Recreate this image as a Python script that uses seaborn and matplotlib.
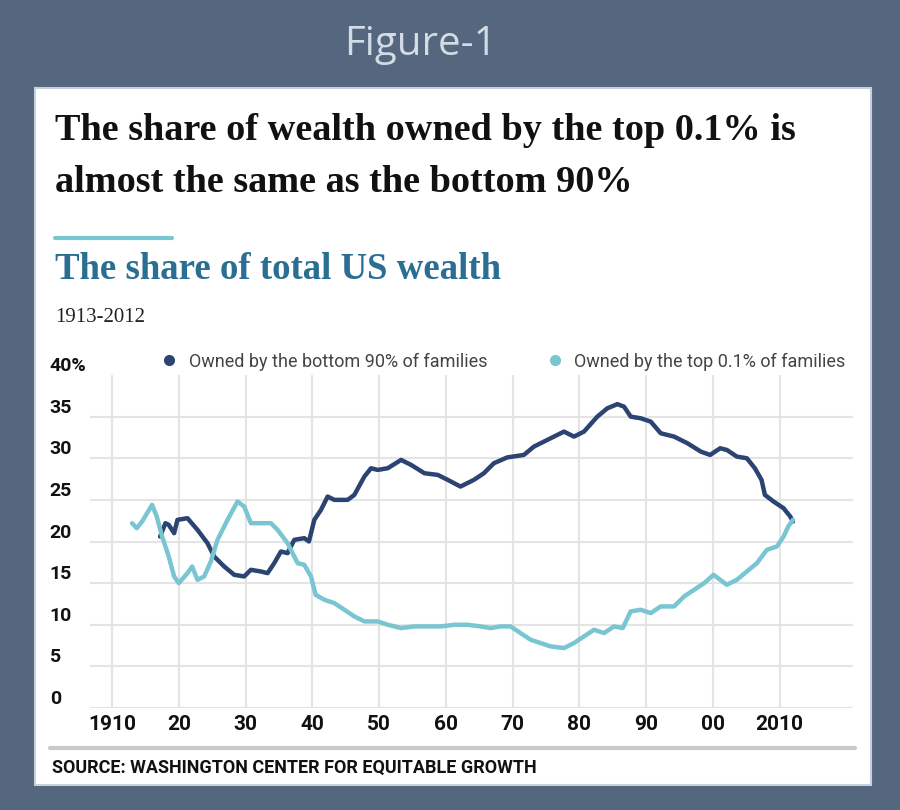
import matplotlib
matplotlib.use("Agg")
import matplotlib.pyplot as plt
import seaborn as sns
import pandas as pd
from matplotlib.patches import Rectangle
from matplotlib.lines import Line2D

# Data (share of total US wealth, %)
bottom90_years = [1917.2, 1918.0, 1918.5, 1919.3, 1919.8, 1921.3, 1922.8, 1924.3, 1925.3, 1926.8,
                  1928.3, 1929.8, 1930.8, 1932.3, 1933.3, 1934.3, 1935.3, 1936.3, 1937.3, 1938.8,
                  1939.5, 1940.3, 1941.3, 1942.3, 1943.3, 1945.3, 1946.3, 1947.8, 1948.8, 1949.8,
                  1951.3, 1953.3, 1954.8, 1956.8, 1958.8, 1960.3, 1962.2, 1964.2, 1965.7, 1967.2,
                  1969.2, 1971.7, 1973.2, 1975.2, 1977.7, 1979.2, 1980.7, 1982.7, 1984.2, 1985.7,
                  1986.7, 1987.7, 1989.2, 1990.7, 1992.2, 1994.2, 1996.2, 1998.2, 1999.6, 2001.1,
                  2002.1, 2003.6, 2005.1, 2006.3, 2007.3, 2007.8, 2009.1, 2010.6, 2011.6, 2012.0]
bottom90_share = [20.6, 22.2, 22.0, 21.0, 22.6, 22.8, 21.4, 19.8, 18.2, 17.0,
                  16.0, 15.8, 16.6, 16.4, 16.2, 17.4, 18.8, 18.6, 20.2, 20.4,
                  20.0, 22.6, 23.8, 25.4, 25.0, 25.0, 25.6, 27.8, 28.8, 28.6,
                  28.8, 29.8, 29.2, 28.2, 28.0, 27.4, 26.6, 27.4, 28.2, 29.4,
                  30.1, 30.4, 31.4, 32.2, 33.2, 32.6, 33.2, 35.0, 36.0, 36.5,
                  36.2, 35.0, 34.8, 34.4, 33.0, 32.6, 31.8, 30.8, 30.4, 31.2,
                  31.0, 30.2, 30.0, 28.8, 27.4, 25.6, 24.8, 24.0, 23.0, 22.4]

top01_years = [1913.0, 1913.7, 1914.5, 1916.0, 1916.7, 1917.5, 1918.5, 1919.3, 1920.0, 1921.3,
               1922.0, 1922.8, 1923.8, 1924.8, 1925.8, 1927.3, 1928.8, 1929.8, 1930.8, 1932.3,
               1933.8, 1934.8, 1936.3, 1937.3, 1937.8, 1938.8, 1939.8, 1940.5, 1941.8, 1943.3,
               1944.8, 1946.3, 1947.8, 1949.8, 1951.3, 1953.3, 1955.3, 1957.3, 1959.3, 1961.3,
               1963.2, 1965.2, 1966.7, 1968.2, 1969.7, 1971.2, 1972.7, 1974.2, 1975.7, 1977.7,
               1979.2, 1980.7, 1982.2, 1983.7, 1985.2, 1986.5, 1987.7, 1989.2, 1990.7, 1992.2,
               1994.2, 1995.7, 1997.2, 1998.7, 2000.1, 2001.1, 2002.1, 2003.6, 2005.1, 2006.6,
               2008.1, 2009.6, 2010.6, 2011.3, 2012.0]
top01_share = [22.2, 21.6, 22.4, 24.4, 23.0, 20.6, 18.2, 15.8, 15.0, 16.2,
               17.0, 15.4, 15.8, 17.6, 20.2, 22.6, 24.8, 24.2, 22.2, 22.2,
               22.2, 21.4, 19.8, 18.2, 17.4, 17.2, 15.8, 13.6, 13.0, 12.6,
               11.8, 11.0, 10.4, 10.4, 10.0, 9.6, 9.8, 9.8, 9.8, 10.0,
               10.0, 9.8, 9.6, 9.8, 9.8, 9.0, 8.2, 7.8, 7.4, 7.2,
               7.8, 8.6, 9.4, 9.0, 9.8, 9.6, 11.6, 11.8, 11.4, 12.2,
               12.2, 13.4, 14.2, 15.0, 16.0, 15.4, 14.8, 15.4, 16.4, 17.4,
               19.0, 19.4, 20.6, 21.8, 22.6]

series_names = ["Owned by the bottom 90% of families", "Owned by the top 0.1% of families"]
x_ticks = [1910, 1920, 1930, 1940, 1950, 1960, 1970, 1980, 1990, 2000, 2010]
x_tick_labels = ["1910", "20", "30", "40", "50", "60", "70", "80", "90", "00", "2010"]
y_ticks = [0, 5, 10, 15, 20, 25, 30, 35, 40]
y_tick_labels = ["0", "5", "10", "15", "20", "25", "30", "35", "40%"]

DARK = "#2b4472"
LIGHT = "#79c5d2"
BG = "#54677f"

df = pd.concat([
    pd.DataFrame({"year": bottom90_years, "share": bottom90_share, "series": series_names[0]}),
    pd.DataFrame({"year": top01_years, "share": top01_share, "series": series_names[1]}),
])

sns.set_theme(style="white")
narrow = ["Liberation Sans Narrow", "Roboto", "DejaVu Sans"]
serif = ["Liberation Serif", "DejaVu Serif"]

fig = plt.figure(figsize=(9, 8.1), dpi=100, facecolor=BG)

# white card behind everything
fig.patches.append(Rectangle((35 / 900, 1 - 785 / 810), 836 / 900, 697 / 810,
                             transform=fig.transFigure, facecolor="white",
                             edgecolor="#c8d1db", linewidth=1.5, zorder=-5))

fig.text(420 / 900, 1 - 45 / 810, "Figure-1", ha="center", va="center",
         fontsize=29, color="#d3dbe5", family=["Open Sans", "DejaVu Sans"])

fig.text(55 / 900, 1 - 130 / 810, "The share of wealth owned by the top 0.1% is",
         ha="left", va="center", fontsize=27.5, fontweight="bold", family=serif, color="#111111")
fig.text(55 / 900, 1 - 183 / 810, "almost the same as the bottom 90%",
         ha="left", va="center", fontsize=27.5, fontweight="bold", family=serif, color="#111111")

fig.lines.append(Line2D([55 / 900, 172 / 900], [1 - 238 / 810, 1 - 238 / 810],
                        transform=fig.transFigure, color=LIGHT, linewidth=3))
fig.text(55 / 900, 1 - 270 / 810, "The share of total US wealth", ha="left", va="center",
         fontsize=26.5, fontweight="bold", family=serif, color="#2a6f93")
fig.text(55 / 900, 1 - 318 / 810, "1913-2012", ha="left", va="center",
         fontsize=15, family=serif, color="#222222")

ax = fig.add_axes([90 / 900, 1 - 708 / 810, 763 / 900, 333 / 810])
ax.set_facecolor("white")

sns.lineplot(data=df, x="year", y="share", hue="series", palette=[DARK, LIGHT],
             estimator=None, sort=False, linewidth=3.2, ax=ax, legend=False, zorder=3)

ax.set_xlim(1906.7, 2021)
ax.set_ylim(0, 40)
ax.set_xticks(x_ticks)
ax.set_xticklabels(x_tick_labels)
ax.set_yticks(y_ticks)
ax.set_yticklabels(y_tick_labels)
ax.set_xlabel("")
ax.set_ylabel("")
ax.grid(True, color="#e4e4e4", linewidth=1.5, zorder=0)
ax.yaxis.get_gridlines()[-1].set_visible(False)
ax.set_axisbelow(True)
for s in ax.spines.values():
    s.set_visible(False)

ax.tick_params(axis="x", length=0, pad=5)
ax.tick_params(axis="y", length=0, pad=29)
for lab in ax.get_xticklabels():
    lab.set_fontsize(15)
    lab.set_fontweight("bold")
    lab.set_family(narrow)
    lab.set_color("#111111")
for lab in ax.get_yticklabels():
    lab.set_fontsize(14)
    lab.set_fontweight("bold")
    lab.set_family(narrow)
    lab.set_color("#111111")
    lab.set_ha("left")
    lab.set_va("bottom")

handles = [Line2D([], [], linestyle="none", marker="o", markersize=7, color=c)
           for c in [DARK, LIGHT]]
ax.legend(handles, series_names, loc="center left", bbox_to_anchor=(0.071, 1.04),
          ncol=2, frameon=False, handletextpad=0.1, columnspacing=2.7, borderaxespad=0,
          prop={"family": narrow, "size": 13}, labelcolor="#444444")

# source rule + source
fig.lines.append(Line2D([50 / 900, 855 / 900], [1 - 748 / 810, 1 - 748 / 810],
                        transform=fig.transFigure, color="#c9c9c9", linewidth=3))
fig.text(52 / 900, 1 - 768 / 810, "SOURCE: WASHINGTON CENTER FOR EQUITABLE GROWTH",
         ha="left", va="center", fontsize=13, fontweight="bold", family=narrow, color="#111111")

fig.savefig("out.png", dpi=100, facecolor=BG)
